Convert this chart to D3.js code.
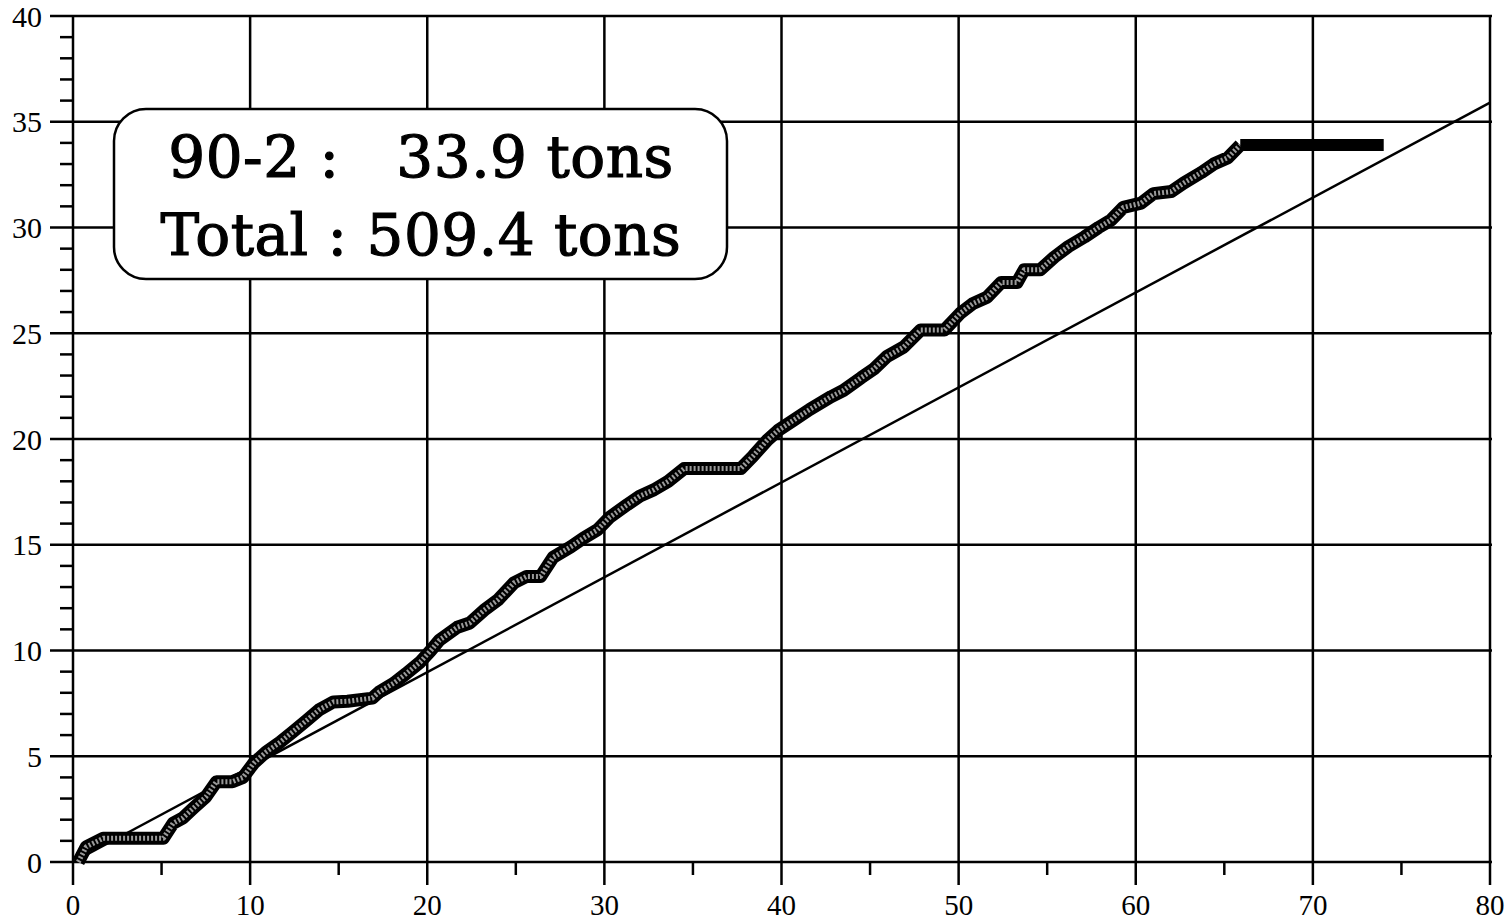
<!DOCTYPE html>
<html lang="en">
<head>
    <meta charset="UTF-8">
    <title>Cumulative tons</title>
    <script src="https://d3js.org/d3.v7.min.js"></script>
    <style>
        body { margin: 0; background: #fff; }
        svg { display: block; }
    </style>
</head>
<body>
<div id="chart"></div>

<script>
    // cumulative tonnage
    const cumX = [0.3, 0.75, 1.7, 5.1, 5.65, 6.2, 6.8, 7.5, 8.1, 9.0, 9.6, 10.2, 10.9, 11.7, 12.4, 13.2, 13.9, 14.7,
        15.5, 16.9, 17.3, 18.1, 18.8, 19.6, 20.2, 20.7, 21.7, 22.4, 23.2, 24.0, 24.9, 25.6, 26.4, 27.1, 28.1, 28.8,
        29.6, 30.3, 31.3, 32.0, 32.8, 33.6, 34.5, 37.7, 38.4, 39.2, 39.8, 40.7, 41.6, 42.8, 43.5, 44.5, 45.2, 45.95,
        46.9, 47.85, 49.2, 50.1, 50.8, 51.6, 52.4, 53.3, 53.7, 54.6, 55.4, 56.2, 57.1, 57.9, 58.6, 59.3, 60.3, 61.0,
        62.0, 62.7, 63.7, 64.4, 65.2, 65.9];
    const cumY = [0.0, 0.72, 1.12, 1.12, 1.83, 2.08, 2.55, 3.08, 3.8, 3.8, 4.0, 4.67, 5.2, 5.67, 6.15, 6.7, 7.2, 7.57,
        7.6, 7.75, 8.05, 8.45, 8.9, 9.45, 10.0, 10.5, 11.1, 11.3, 11.9, 12.4, 13.2, 13.5, 13.5, 14.4, 14.9, 15.3,
        15.7, 16.3, 16.9, 17.3, 17.6, 18.0, 18.6, 18.6, 19.2, 19.95, 20.4, 20.9, 21.4, 22.0, 22.3, 22.9, 23.3, 23.9,
        24.35, 25.15, 25.15, 25.95, 26.4, 26.7, 27.4, 27.4, 28.0, 28.0, 28.6, 29.1, 29.55, 30.0, 30.35, 30.95, 31.15, 31.6,
        31.7, 32.1, 32.6, 33.0, 33.3, 33.9];

    // flat tail at the end of the season
    const tailX = [65.9, 74.0];
    const tailY = [33.9, 33.9];

    // straight reference line
    const trendX = [0, 80];
    const trendY = [0, 35.9];

    const xTicks = [0, 10, 20, 30, 40, 50, 60, 70, 80];
    const xMinor = [5, 15, 25, 35, 45, 55, 65, 75];
    const yTicks = [0, 5, 10, 15, 20, 25, 30, 35, 40];
    const yMinor = d3.range(0, 41).filter(v => v % 5 !== 0);

    const boxLines = ["90-2 :   33.9 tons", "Total : 509.4 tons"];

    const width = 1505, height = 924;
    const x = d3.scaleLinear().domain([0, 80]).range([73, 1490]);
    const y = d3.scaleLinear().domain([0, 40]).range([862, 16]);

    let svg = d3.select("#chart")
        .append("svg")
        .attr("width", width)
        .attr("height", height);

    // grid
    let grid = svg.append("g").attr("stroke", "#000").attr("stroke-width", 2.5);
    grid.selectAll("line.h")
        .data(yTicks)
        .join("line")
        .attr("class", "h")
        .attr("x1", 50).attr("x2", x(80) + 2)
        .attr("y1", d => y(d)).attr("y2", d => y(d));
    grid.selectAll("line.v")
        .data(xTicks)
        .join("line")
        .attr("class", "v")
        .attr("x1", d => x(d)).attr("x2", d => x(d))
        .attr("y1", y(40)).attr("y2", 885);

    // minor ticks
    grid.selectAll("line.ym")
        .data(yMinor)
        .join("line")
        .attr("class", "ym")
        .attr("x1", 60).attr("x2", x(0))
        .attr("y1", d => y(d)).attr("y2", d => y(d));
    grid.selectAll("line.xm")
        .data(xMinor)
        .join("line")
        .attr("class", "xm")
        .attr("x1", d => x(d)).attr("x2", d => x(d))
        .attr("y1", y(0)).attr("y2", 875);

    // tick labels
    svg.append("g").selectAll("text")
        .data(yTicks)
        .join("text")
        .attr("x", 42)
        .attr("y", d => y(d))
        .attr("dy", "0.35em")
        .attr("text-anchor", "end")
        .style("font-family", "Liberation Serif")
        .style("font-size", "30px")
        .text(d => d);

    svg.append("g").selectAll("text")
        .data(xTicks)
        .join("text")
        .attr("x", d => x(d))
        .attr("y", 915)
        .attr("text-anchor", "middle")
        .style("font-family", "Liberation Serif")
        .style("font-size", "29px")
        .text(d => d);

    let line = d3.line().x(d => x(d[0])).y(d => y(d[1]));

    // thin straight line first, thick curve on top
    svg.append("path")
        .attr("d", line(d3.zip(trendX, trendY)))
        .attr("fill", "none")
        .attr("stroke", "#000")
        .attr("stroke-width", 2.5);

    let cum = d3.zip(cumX, cumY);
    svg.append("path")
        .attr("d", line(cum))
        .attr("fill", "none")
        .attr("stroke", "#000")
        .attr("stroke-width", 13)
        .attr("stroke-linejoin", "round");
    // the dotted inside of the scanned curve
    svg.append("path")
        .attr("d", line(cum))
        .attr("fill", "none")
        .attr("stroke", "#999")
        .attr("stroke-width", 5)
        .attr("stroke-dasharray", "2,2")
        .attr("stroke-linejoin", "round");

    svg.append("path")
        .attr("d", line(d3.zip(tailX, tailY)))
        .attr("fill", "none")
        .attr("stroke", "#000")
        .attr("stroke-width", 12);

    // label box
    let box = svg.append("g");
    box.append("rect")
        .attr("x", 114).attr("y", 109)
        .attr("width", 613).attr("height", 170)
        .attr("rx", 32).attr("ry", 32)
        .attr("fill", "#fff")
        .attr("stroke", "#000")
        .attr("stroke-width", 2.5);
    box.selectAll("text")
        .data(boxLines)
        .join("text")
        .attr("x", 421)
        .attr("y", (d, i) => 177 + i * 78)
        .attr("text-anchor", "middle")
        .attr("stroke", "#000")
        .attr("stroke-width", 1.2)
        .style("font-family", "DejaVu Serif")
        .style("font-size", "58px")
        .style("letter-spacing", "0.5px")
        .style("white-space", "pre")
        .text(d => d);
</script>
</body>
</html>
